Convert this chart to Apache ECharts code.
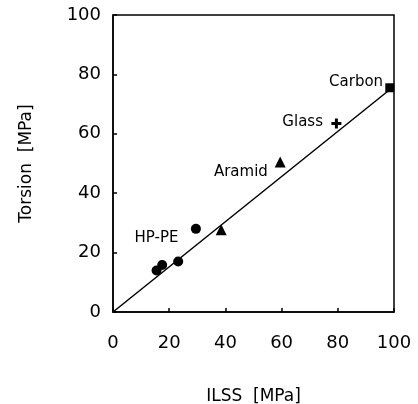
<!DOCTYPE html>
<html><head><meta charset="utf-8">
<script src="https://cdn.jsdelivr.net/npm/echarts@6/dist/echarts.min.js"></script>
<style>html,body{margin:0;padding:0;background:#fff}#c{width:418px;height:404px}</style>
</head><body><div id="c"></div>
<script>
const xTicks = [0, 20, 40, 60, 80, 100];
const yTicks = [0, 20, 40, 60, 80, 100];
const hppe = [[15.5, 14], [17.5, 15.8], [23.2, 17], [29.5, 28]];
const aramid = [[38.5, 27.7], [59.5, 50.5]];
const glass = [[79.5, 63.5]];
const carbon = [[98.5, 75.5]];
const fitLine = [[0, 0], [100, 76]];
const labelNames = ['HP-PE', 'Aramid', 'Glass', 'Carbon'];
const labelPos = [[15.5, 25], [45.5, 47], [67.5, 64], [86.5, 77.5]];

const font = 'DejaVu Sans';
const chart = echarts.init(document.getElementById('c'));
const axisCommon = {
  min: 0, max: 100, interval: 20,
  axisLine: {show: true, lineStyle: {color: '#000', width: 1.5}},
  axisTick: {show: true, inside: true, length: 4, lineStyle: {color: '#000', width: 1.5}},
  splitLine: {show: false},
  nameLocation: 'middle',
  nameTextStyle: {fontFamily: font, fontSize: 17, color: '#000'}
};
const solid = {color: '#000', opacity: 1};
chart.setOption({
  animation: false,
  grid: {left: 113, right: 24, top: 15, bottom: 92, containLabel: false, outerBoundsMode: 'none',
    show: true, borderColor: '#000', borderWidth: 1.5, backgroundColor: 'transparent'},
  xAxis: Object.assign({}, axisCommon, {
    type: 'value', name: 'ILSS  [MPa]', nameGap: 76,
    axisLabel: {margin: 22, fontFamily: font, fontSize: 18, color: '#000',
      formatter: v => xTicks.includes(v) ? String(v) : ''}
  }),
  yAxis: Object.assign({}, axisCommon, {
    type: 'value', name: 'Torsion  [MPa]', nameGap: 78,
    axisLabel: {margin: 12, fontFamily: font, fontSize: 18, color: '#000',
      formatter: v => yTicks.includes(v) ? String(v) : ''}
  }),
  series: [
    {type: 'line', data: fitLine, symbol: 'none', lineStyle: {color: '#000', width: 1.5, opacity: 1}, z: 1},
    {type: 'scatter', data: hppe, symbol: 'circle', symbolSize: 10, itemStyle: solid},
    {type: 'scatter', data: aramid, symbol: 'triangle', symbolSize: 11, itemStyle: solid},
    {type: 'scatter', data: glass, symbol: 'path://M3.5,0 h3 v3.5 h3.5 v3 h-3.5 v3.5 h-3 v-3.5 h-3.5 v-3 h3.5 z', symbolSize: 10, itemStyle: solid},
    {type: 'scatter', data: carbon, symbol: 'rect', symbolSize: 9, itemStyle: solid},
    {type: 'scatter', symbolSize: 0, itemStyle: solid,
      data: labelPos.map((p, i) => ({value: p, name: labelNames[i]})),
      label: {show: true, position: 'inside', formatter: p => p.name, fontFamily: font, fontSize: 15, color: '#000', opacity: 1}}
  ]
});
</script></body></html>
